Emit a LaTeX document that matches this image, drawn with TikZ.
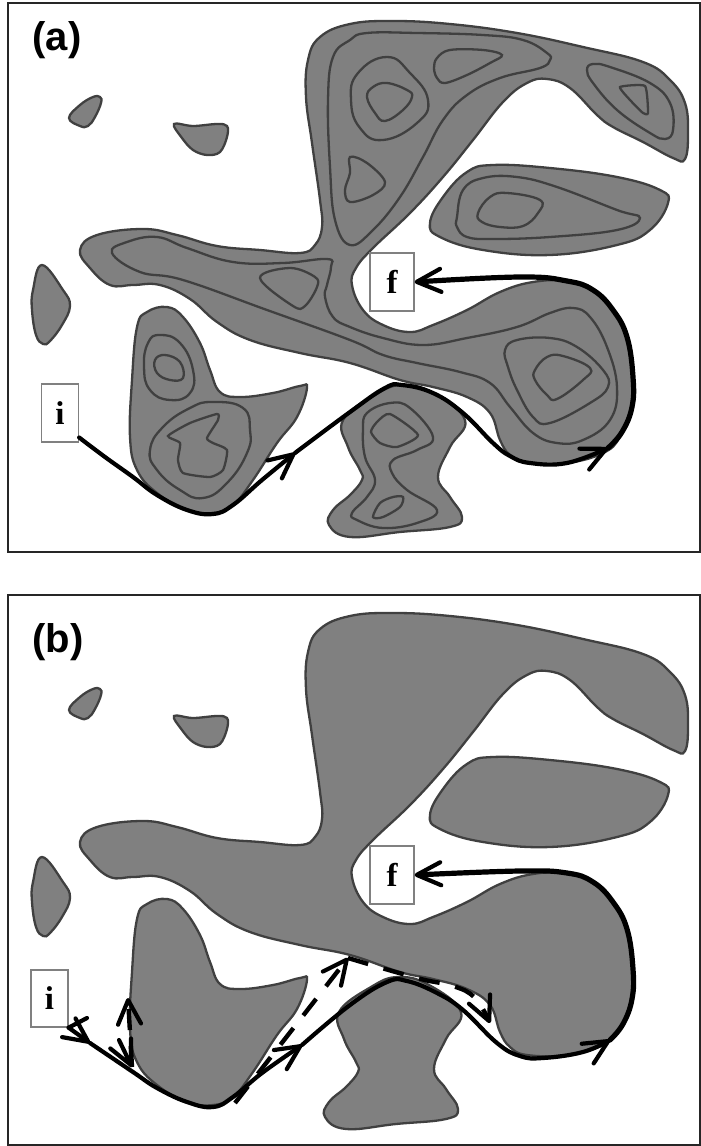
\documentclass[tikz,border=0pt]{standalone}
\usepackage{fontspec}
\setmainfont{Liberation Serif}
\newfontfamily\panelfont{Liberation Sans}
\usetikzlibrary{arrows.meta, positioning}
\definecolor{blobgray}{HTML}{808080}
\definecolor{blobline}{HTML}{404040}
\tikzstyle{frame}    = [line width=2.4pt, draw=black!85]
\tikzstyle{blob}     = [line width=2.3pt, draw=blobline, fill=blobgray]
\tikzstyle{contour}  = [line width=2.3pt, draw=blobline]
\tikzstyle{endbox}   = [draw=black!50, line width=1.3pt, fill=white, inner sep=0pt, font=\bfseries\fontsize{33}{33}\selectfont]
\tikzstyle{panel}    = [inner sep=0pt, font=\panelfont\bfseries\fontsize{40}{40}\selectfont]
\tikzstyle{route}    = [line width=4.2pt, line cap=round, line join=round, >={Straight Barb[length=24pt,width=23pt,line width=4.2pt,round]}]
\tikzstyle{thickroute} = [route, line width=5.2pt]
\tikzstyle{dashroute} = [route, line width=4.4pt, dash pattern=on 21pt off 16pt, line cap=butt]
\newcommand{\smallblobs}{
\draw[blob] plot[smooth cycle,tension=.7] coordinates {(100,97)(101,103)(95,117)(88,126)(80,126)(69,118)(80,105)(93,97)};
\draw[blob] plot[smooth cycle,tension=.6] coordinates {(174,124)(193,126)(217,124)(227,126)(227,137)(220,152)(207,155)(193,150)(182,138)};
\draw[blob] plot[smooth cycle,tension=.7] coordinates {(42,265)(63,290)(70,306)(62,325)(50,341)(43,344)(36,335)(32,310)(33,290)};
}
\newcommand{\bigblobs}{
\draw[blob] plot[smooth cycle,tension=.7] coordinates {(80,250)(97,235)(143,229)(177,235)(217,246)(260,250)(300,253)(315,245)(322,227)(320,200)(312,143)(306,97)(308,60)(320,37)(350,24)(393,21)(450,24)(517,33)(583,47)(643,62)(670,80)(685,103)(688,133)(685,159)(673,158)(643,142)(613,127)(597,115)(570,88)(547,79)(527,83)(503,102)(473,140)(443,177)(410,213)(373,248)(356,268)(352,285)(363,310)(383,325)(410,332)(433,325)(467,310)(500,292)(533,282)(567,281)(593,290)(613,310)(627,337)(633,377)(632,407)(620,437)(603,453)(567,463)(527,463)(510,455)(500,440)(490,413)(467,397)(433,387)(400,380)(350,363)(300,353)(250,340)(217,322)(190,299)(160,285)(133,285)(110,285)(90,268)};
\draw[blob] plot[smooth cycle,tension=.7] coordinates {(430,223)(443,197)(467,172)(493,165)(550,168)(617,177)(660,190)(668,203)(650,230)(617,245)(550,255)(483,250)(440,237)};
\draw[blob] plot[smooth cycle,tension=.7] coordinates {(167,307)(147,312)(137,327)(132,380)(130,437)(137,470)(157,493)(187,510)(213,513)(233,505)(253,480)(277,443)(297,417)(307,388)(300,386)(273,393)(240,397)(220,392)(210,370)(200,343)(183,317)};
}
\newcommand{\lowblob}{
\draw[blob] plot[smooth cycle,tension=.7] coordinates {(402,385)(433,393)(465,420)(450,447)(438,477)(450,497)(462,517)(450,527)(400,532)(350,537)(329,525)(333,510)(350,495)(362,480)(360,470)(348,447)(343,420)(375,395)};
}

\begin{document}
\begin{tikzpicture}[x=1pt,y=-1pt]

\useasboundingbox (0,0) rectangle (701,1146);

\draw[frame] (8,3) rectangle (700,552);
\draw[frame] (8,595) rectangle (700,1145);

\smallblobs
\bigblobs
\lowblob

\draw[contour] plot[smooth cycle,tension=.7] coordinates {(350,40)(367,33)(417,33)(483,35)(523,40)(547,53)(550,60)(540,68)(500,78)(467,95)(443,120)(423,157)(400,197)(373,230)(350,245)(335,220)(330,167)(328,100)(333,57)};
\draw[contour] plot[smooth cycle,tension=.8] coordinates {(387,57)(410,73)(428,100)(417,123)(383,140)(360,128)(351,100)(358,73)};
\draw[contour] plot[smooth cycle,tension=.7] coordinates {(387,83)(407,90)(412,97)(403,110)(385,121)(375,113)(367,97)(373,87)};
\draw[contour] plot[smooth cycle,tension=.6] coordinates {(437,58)(450,50)(483,50)(502,55)(490,63)(467,75)(445,83)(437,78)(434,68)};
\draw[contour] plot[smooth cycle,tension=.6] coordinates {(350,157)(367,163)(385,182)(373,195)(350,202)(345,190)(350,173)};
\draw[contour] plot[smooth cycle,tension=.7] coordinates {(587,70)(593,64)(610,67)(650,83)(670,103)(673,130)(665,139)(650,133)(617,110)(593,83)};
\draw[contour] plot[smooth cycle,tension=.3] coordinates {(620,87)(645,86)(648,113)(643,113)(630,100)};
\draw[contour] plot[smooth cycle,tension=.7] coordinates {(457,217)(463,190)(483,178)(517,177)(557,187)(617,210)(640,218)(617,230)(550,237)(493,239)(467,237)(457,227)};
\draw[contour] plot[smooth cycle,tension=.7] coordinates {(478,213)(490,197)(507,193)(540,200)(538,213)(523,226)(500,227)(482,222)};
\draw[contour] plot[smooth cycle,tension=.7] coordinates {(112,253)(127,242)(157,237)(187,248)(233,262)(283,263)(327,259)(331,267)(327,285)(325,297)(333,317)(350,327)(383,338)(423,345)(467,338)(517,327)(550,313)(573,308)(590,317)(607,347)(617,387)(610,420)(583,440)(557,443)(533,433)(510,407)(490,383)(460,372)(417,363)(383,355)(350,340)(267,310)(183,280)(140,272)};
\draw[contour] plot[smooth cycle,tension=.6] coordinates {(260,278)(290,268)(315,277)(317,287)(305,306)(293,306)};
\draw[contour] plot[smooth cycle,tension=.7] coordinates {(505,350)(517,340)(550,338)(577,347)(603,370)(608,387)(590,403)(550,423)(533,417)(517,390)(508,367)};
\draw[contour] plot[smooth cycle,tension=.7] coordinates {(535,370)(547,357)(563,356)(590,368)(583,380)(557,399)(547,395)(535,380)};
\draw[contour] plot[smooth cycle,tension=.8] coordinates {(160,335)(180,343)(193,370)(190,393)(170,400)(150,390)(144,367)(148,343)};
\draw[contour] plot[smooth cycle,tension=.7] coordinates {(165,355)(180,362)(183,378)(170,380)(157,373)(155,360)};
\draw[contour] plot[smooth cycle,tension=.8] coordinates {(213,402)(243,408)(250,430)(247,453)(227,483)(203,498)(180,490)(157,470)(150,450)(163,427)(190,408)};
\draw[contour] plot[smooth cycle,tension=.35] coordinates {(168,436)(190,423)(217,414)(218,420)(207,438)(213,443)(227,450)(223,470)(210,477)(183,473)(178,460)(180,443)};
\draw[contour] plot[smooth cycle,tension=.7] coordinates {(367,413)(390,403)(410,408)(433,437)(417,450)(393,460)(392,473)(407,490)(437,510)(417,523)(383,528)(357,520)(352,513)(367,497)(375,480)(365,457)(363,430)};
\draw[contour] plot[smooth cycle,tension=.4] coordinates {(390,414)(418,435)(397,447)(380,443)(371,432)(377,422)};
\draw[contour] plot[smooth cycle,tension=.5] coordinates {(393,497)(403,497)(400,507)(383,517)(373,517)(380,503)};

\begin{scope}[shift={(0,592)}]
\smallblobs
\bigblobs
\end{scope}
\begin{scope}[shift={(-4,592)}]
\lowblob
\end{scope}

\node[panel] (PA) at (57,40) {(a)};
\node[panel] (PB) at (58,642) {(b)};

\node[endbox,minimum width=37pt,minimum height=58pt] (IA) at (60,413) {i};
\node[endbox,minimum width=44pt,minimum height=58pt] (FA) at (392,282) {f};
\node[endbox,minimum width=37pt,minimum height=57pt] (IB) at (49.5,998.5) {i};
\node[endbox,minimum width=44pt,minimum height=58pt] (FB) at (392,875) {f};

\coordinate (MA) at (295,453);
\coordinate (EA) at (608,448);
\coordinate (SB) at (90,1043);
\coordinate (MB) at (302,1045);
\coordinate (EB) at (610,1040);
\coordinate (HB) at (128,998);
\coordinate (WB) at (132,1067);
\coordinate (BB) at (119,1040);
\coordinate (KB) at (348,958);
\coordinate (RB) at (490,1023);
\coordinate (DB) at (87,1018);
\coordinate (TB) at (235,1103);

\draw[route,->] plot[smooth,tension=.7] coordinates {(IA.-52) (105,457) (133,477) (157,495) (187,510) (213,514) (233,505) (262,480) (MA)};
\draw[route,->] plot[smooth,tension=.7] coordinates {(MA) (350,412) (385,388) (402,385) (433,393) (463,413) (493,443) (510,456) (530,463) (567,463) (EA)};
\draw[thickroute,->] plot[smooth,tension=.7] coordinates {(EA) (622,432) (632,407) (633,377) (627,337) (613,310) (593,290) (567,281) (520,277) (FA.east)};

\draw[route,->] (IB.south east) -- (SB);
\draw[route] (IB.south east) -- (DB);
\draw[route,->] plot[smooth,tension=.7] coordinates {(SB) (133,1072) (157,1088) (187,1102) (213,1107) (233,1097) (262,1073) (MB)};
\draw[route,->] plot[smooth,tension=.7] coordinates {(MB) (350,1005) (387,982) (407,981) (437,993) (463,1010) (497,1043) (520,1056) (543,1058) (583,1052) (EB)};
\draw[thickroute,->] plot[smooth,tension=.7] coordinates {(EB) (623,1024) (632,999) (633,969) (627,929) (613,902) (593,882) (567,873) (520,871) (FB.east)};

\draw[route,->] (BB) -- (WB);
\draw[dashroute,->] (WB) -- (HB);
\draw[dashroute,->] (TB) -- (KB);
\draw[dashroute,->] plot[smooth,tension=.7] coordinates {(KB) (417,978) (453,986) (475,998) (RB)};

\end{tikzpicture}
\end{document}
